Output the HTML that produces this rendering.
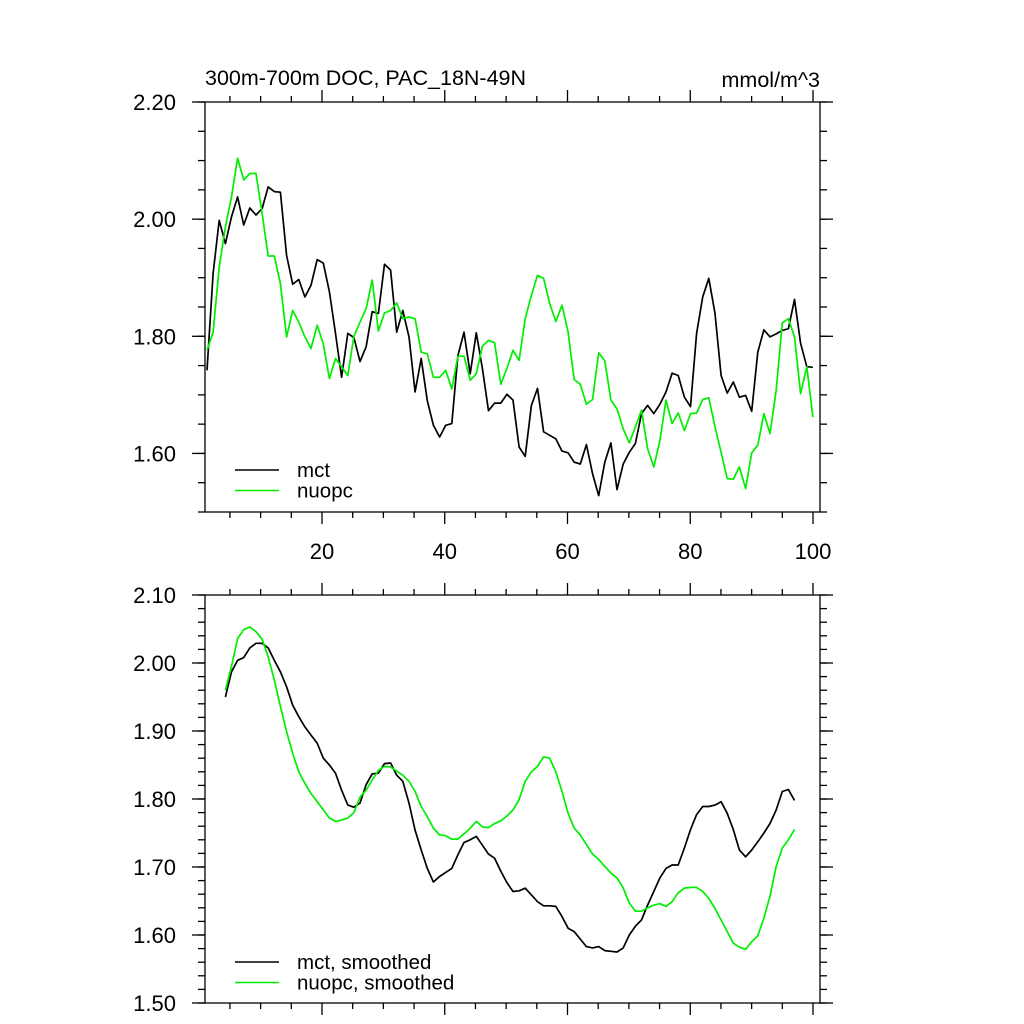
<!DOCTYPE html>
<html><head><meta charset="utf-8"><style>
body{margin:0;background:#fff;}
svg{display:block;font-family:"Liberation Sans",Arial,sans-serif;}
</style></head><body>
<svg id="chart" width="1024" height="1024" viewBox="0 0 1024 1024" xmlns="http://www.w3.org/2000/svg">
<text x="205" y="85" font-size="21.5">300m-700m DOC, PAC_18N-49N</text>
<text x="820" y="87" font-size="21.5" text-anchor="end">mmol/m^3</text>
</svg>
<script>
const mctRaw=[1.742,1.907,1.998,1.958,2.004,2.038,1.990,2.019,2.007,2.018,2.055,2.047,2.046,1.938,1.889,1.897,1.867,1.887,1.931,1.925,1.876,1.805,1.730,1.805,1.798,1.757,1.782,1.842,1.839,1.923,1.913,1.807,1.844,1.799,1.705,1.762,1.690,1.648,1.628,1.648,1.651,1.767,1.807,1.736,1.806,1.745,1.673,1.686,1.686,1.701,1.691,1.611,1.595,1.682,1.711,1.637,1.631,1.625,1.604,1.601,1.585,1.582,1.615,1.565,1.528,1.585,1.618,1.538,1.582,1.602,1.617,1.668,1.682,1.668,1.684,1.705,1.737,1.733,1.696,1.680,1.805,1.867,1.899,1.839,1.733,1.703,1.722,1.696,1.699,1.672,1.773,1.811,1.799,1.804,1.810,1.813,1.863,1.788,1.748,1.747];
const nuopcRaw=[1.776,1.807,1.918,1.987,2.038,2.104,2.067,2.078,2.078,2.010,1.937,1.937,1.890,1.799,1.844,1.824,1.799,1.779,1.819,1.787,1.728,1.762,1.748,1.733,1.800,1.824,1.847,1.896,1.809,1.840,1.844,1.857,1.830,1.833,1.830,1.773,1.770,1.730,1.730,1.742,1.710,1.766,1.766,1.725,1.736,1.783,1.793,1.789,1.718,1.745,1.776,1.759,1.830,1.870,1.904,1.899,1.856,1.825,1.853,1.807,1.726,1.718,1.684,1.692,1.772,1.758,1.691,1.676,1.642,1.618,1.645,1.674,1.608,1.577,1.622,1.691,1.651,1.669,1.639,1.668,1.669,1.692,1.695,1.645,1.602,1.557,1.556,1.577,1.540,1.601,1.614,1.668,1.634,1.708,1.823,1.830,1.799,1.702,1.748,1.662];
const smoothStart=4;
const mctSmooth=[1.950,1.987,2.004,2.008,2.022,2.029,2.029,2.022,2.004,1.987,1.965,1.938,1.921,1.906,1.894,1.882,1.860,1.850,1.838,1.813,1.791,1.788,1.794,1.821,1.837,1.838,1.852,1.853,1.835,1.826,1.794,1.754,1.725,1.698,1.678,1.686,1.692,1.698,1.718,1.736,1.740,1.745,1.732,1.719,1.713,1.694,1.677,1.664,1.665,1.669,1.659,1.649,1.643,1.643,1.642,1.627,1.610,1.605,1.594,1.583,1.581,1.583,1.577,1.576,1.575,1.581,1.600,1.613,1.622,1.644,1.664,1.684,1.698,1.703,1.703,1.728,1.755,1.777,1.789,1.789,1.791,1.796,1.779,1.755,1.725,1.715,1.725,1.737,1.750,1.764,1.784,1.811,1.814,1.798];
const nuopcSmooth=[1.960,1.995,2.036,2.049,2.053,2.046,2.035,2.009,1.975,1.936,1.899,1.867,1.840,1.823,1.808,1.796,1.784,1.772,1.767,1.769,1.772,1.780,1.803,1.813,1.828,1.842,1.848,1.847,1.841,1.835,1.826,1.811,1.789,1.774,1.757,1.747,1.746,1.741,1.741,1.749,1.757,1.767,1.759,1.758,1.764,1.768,1.775,1.784,1.799,1.826,1.840,1.848,1.862,1.860,1.840,1.811,1.779,1.757,1.747,1.733,1.719,1.711,1.701,1.691,1.684,1.669,1.647,1.635,1.635,1.640,1.644,1.646,1.642,1.649,1.662,1.669,1.670,1.670,1.664,1.654,1.639,1.622,1.605,1.588,1.582,1.579,1.590,1.599,1.625,1.657,1.701,1.728,1.740,1.755];
const xTickLabels=[20,40,60,80,100];
const yTicksTop=[1.60,1.80,2.00,2.20];
const yTicksBot=[1.50,1.60,1.70,1.80,1.90,2.00,2.10];

const NS="http://www.w3.org/2000/svg";
const svg=document.getElementById('chart');
function el(tag,attrs,parent){const e=document.createElementNS(NS,tag);for(const k in attrs)e.setAttribute(k,attrs[k]);(parent||svg).appendChild(e);return e;}
const L=205,R=820;
function xs(i){return 322+(i-20)*6.1375;}
function xd(i){return 207+(i-1)*6.12;}

function panel(top,bottom,ymin,ymax,yTicks,minorStep,showX,series,legendY,name){
  const g=el('g',{});
  
  
  const ys=v=>bottom-(v-ymin)/(ymax-ymin)*(bottom-top);
  const st={stroke:'#000','stroke-width':1.3};
  for(let v=ymin;v<=ymax+1e-9;v+=minorStep){
    const y=ys(v);
    el('line',Object.assign({x1:L-7,x2:L,y1:y,y2:y},st),g);
    el('line',Object.assign({x1:R,x2:R+7,y1:y,y2:y},st),g);
  }
  yTicks.forEach(v=>{
    const y=ys(v);
    el('line',Object.assign({x1:L-13,x2:L,y1:y,y2:y},st),g);
    el('line',Object.assign({x1:R,x2:R+13,y1:y,y2:y},st),g);
    const t=el('text',{x:176,y:y+8,'font-size':22,'text-anchor':'end'},g);
    t.textContent=v.toFixed(2);
    
    
  });
  for(let v=5;v<=100;v+=5){
    const x=xs(v);const maj=v%20===0;const len=maj?12:6;
    el('line',Object.assign({x1:x,x2:x,y1:top-len,y2:top},st),g);
    el('line',Object.assign({x1:x,x2:x,y1:bottom,y2:bottom+len},st),g);
    if(maj&&showX){
      const t=el('text',{x:x,y:bottom+47,'font-size':22,'text-anchor':'middle'},g);
      t.textContent=v;
      
      
    }
  }
  const fr=el('rect',{x:L,y:top,width:R-L,height:bottom-top,fill:'none',stroke:'#000','stroke-width':1.3},g);
  
  
  series.forEach((s,k)=>{
    const pts=s.data.map((v,j)=>xd(s.start+j).toFixed(1)+','+ys(v).toFixed(1)).join(' ');
    const p=el('polyline',{points:pts,fill:'none',stroke:s.color,'stroke-width':1.7,'stroke-linejoin':'round'},g);
    
    
    const ly=legendY+k*20.5;
    const ll=el('line',{x1:235,x2:279,y1:ly,y2:ly,stroke:s.color,'stroke-width':1.6},g);
    
    
    const lt=el('text',{x:297,y:ly+7,'font-size':20.5},g);
    lt.textContent=s.label;
    
    
  });
}
panel(102,512,1.5,2.2,yTicksTop,0.05,true,[
  {id:'mct',label:'mct',color:'#000',data:mctRaw,start:1},
  {id:'nuopc',label:'nuopc',color:'#00ee00',data:nuopcRaw,start:1}],470,'top-panel');
panel(595,1003,1.5,2.1,yTicksBot,0.02,false,[
  {id:'mct-smoothed',label:'mct, smoothed',color:'#000',data:mctSmooth,start:smoothStart},
  {id:'nuopc-smoothed',label:'nuopc, smoothed',color:'#00ee00',data:nuopcSmooth,start:smoothStart}],962,'bottom-panel');
</script>
</body></html>
